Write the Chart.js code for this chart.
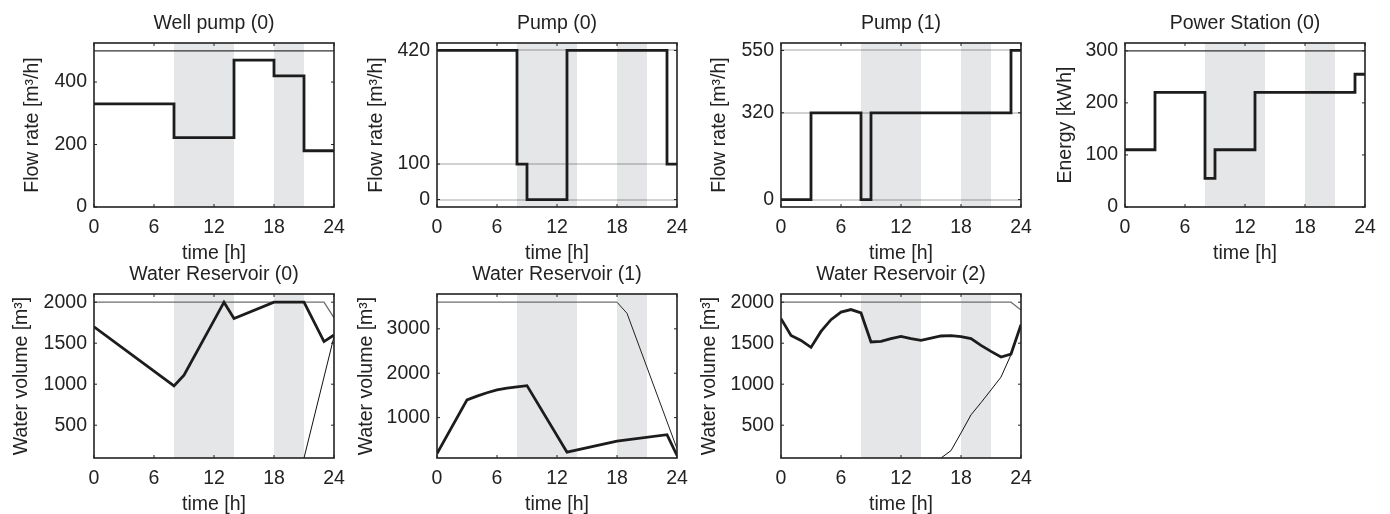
<!DOCTYPE html>
<html>
<head>
<meta charset="utf-8">
<title>Pump schedule</title>
<script src="https://cdn.jsdelivr.net/npm/chart.js"></script>
<style>
  body { margin: 0; background: #fff; }
  #page { position: relative; width: 1390px; height: 514px; overflow: hidden; }
  #page canvas { position: absolute; }
</style>
</head>
<body>
<div id="page">
  <canvas id="wellPump" width="356" height="265" style="left:0px;top:0px"></canvas>
  <canvas id="pump0" width="356" height="265" style="left:343px;top:0px"></canvas>
  <canvas id="pump1" width="356" height="265" style="left:687px;top:0px"></canvas>
  <canvas id="power" width="356" height="265" style="left:1031px;top:0px"></canvas>
  <canvas id="res0" width="356" height="265" style="left:0px;top:251px"></canvas>
  <canvas id="res1" width="356" height="265" style="left:343px;top:251px"></canvas>
  <canvas id="res2" width="356" height="265" style="left:687px;top:251px"></canvas>
</div>
<script>
// time axis and the expensive-tariff hours (shaded)
const hourTicks = [0, 6, 12, 18, 24];
const peakBands = [[8, 14], [18, 21]];

// Well pump (0)
const wellPumpTime = [0, 8, 14, 18, 21, 24];
const wellPumpFlow = [330, 222, 470, 420, 180, 180];
const wellPumpMax = 500;
const wellPumpTicks = [0, 200, 400];

// Pump (0)
const pump0Time = [0, 8, 9, 13, 23, 24];
const pump0Flow = [420, 100, 0, 420, 100, 100];
const pump0Ticks = [0, 100, 420];

// Pump (1)
const pump1Time = [0, 3, 8, 9, 23, 24];
const pump1Flow = [0, 320, 0, 320, 550, 550];
const pump1Ticks = [0, 320, 550];

// Power Station (0)
const powerTime = [0, 3, 8, 9, 13, 23, 24];
const powerEnergy = [110, 220, 55, 110, 220, 255, 255];
const powerMax = 300;
const powerTicks = [0, 100, 200, 300];

// Water Reservoir (0)
const res0Time = [0, 8, 9, 13, 14, 18, 21, 23, 24];
const res0Volume = [1700, 980, 1110, 2000, 1800, 2000, 2000, 1520, 1600];
const res0UpperTime = [0, 23, 24];
const res0Upper = [2000, 2000, 1810];
const res0LowerTime = [21, 24];
const res0Lower = [100, 1580];

// Water Reservoir (1)
const res1Time = [0, 3, 4, 5, 6, 7, 8, 9, 13, 18, 23, 24];
const res1Volume = [190, 1400, 1485, 1560, 1625, 1665, 1695, 1720, 220, 470, 615, 150];
const res1CapTime = [0, 18];
const res1Cap = [3600, 3600];
const res1UpperTime = [18, 19, 24];
const res1Upper = [3600, 3350, 300];
const res1Ticks = [1000, 2000, 3000];

// Water Reservoir (2)
const res2Time = [0, 1, 2, 3, 4, 5, 6, 7, 8, 9, 10, 11, 12, 13, 14, 15, 16, 17, 18, 19, 20, 21, 22, 23, 24];
const res2Volume = [1800, 1595, 1534, 1449, 1644, 1787, 1880, 1910, 1869, 1515, 1522, 1555, 1583,
                    1555, 1534, 1562, 1588, 1592, 1580, 1555, 1473, 1400, 1331, 1368, 1726];
const res2UpperTime = [0, 23, 24];
const res2Upper = [2000, 2000, 1905];
const res2LowerTime = [16, 17, 18, 19, 20, 21, 22, 23, 24];
const res2Lower = [100, 190, 405, 626, 775, 930, 1087, 1360, 1726];

const resTicks = [500, 1000, 1500, 2000];

const TEXT = "#222";
const BAND = "rgba(0, 10, 20, 0.1)";
const FONT_SIZE = 19.5;

Chart.defaults.font.family = "'Liberation Sans', Arial, sans-serif";
Chart.defaults.font.size = FONT_SIZE;
Chart.defaults.color = TEXT;

const toPoints = (times, values) => times.map((t, i) => ({ x: t, y: values[i] }));

// matlab-ish box with inward ticks
const axesBox = {
  id: "axesBox",
  afterDatasetsDraw(chart) {
    const { ctx, chartArea: a, scales } = chart;
    ctx.save();
    ctx.strokeStyle = TEXT;
    ctx.lineWidth = 1;
    ctx.beginPath();
    scales.x.ticks.forEach((t) => {
      const px = scales.x.getPixelForValue(t.value);
      ctx.moveTo(px, a.bottom);
      ctx.lineTo(px, a.bottom - 3);
      ctx.moveTo(px, a.top);
      ctx.lineTo(px, a.top + 3);
    });
    scales.y.ticks.forEach((t) => {
      const py = scales.y.getPixelForValue(t.value);
      ctx.moveTo(a.left, py);
      ctx.lineTo(a.left + 3, py);
      ctx.moveTo(a.right, py);
      ctx.lineTo(a.right - 3, py);
    });
    ctx.stroke();
    ctx.lineWidth = 1.6;
    ctx.strokeRect(a.left, a.top, a.right - a.left, a.bottom - a.top);
    ctx.restore();
  },
};

const makePlot = (id, cfg) => {
  const datasets = [];

  cfg.lines.forEach((line) => {
    datasets.push({
      data: toPoints(line.t, line.v),
      borderColor: line.color || "#1c1c1c",
      borderWidth: line.width || 2.8,
      stepped: cfg.stepped ? "before" : false,
      pointRadius: 0,
      fill: false,
      tension: 0,
    });
  });

  peakBands.forEach(([from, to]) => {
    datasets.push({
      data: [{ x: from, y: cfg.yMax }, { x: to, y: cfg.yMax }],
      borderWidth: 0,
      borderColor: "transparent",
      backgroundColor: BAND,
      pointRadius: 0,
      fill: "start",
    });
  });

  return new Chart(document.getElementById(id), {
    type: "line",
    data: { datasets },
    plugins: [axesBox],
    options: {
      responsive: false,
      animation: false,
      layout: { padding: { top: 0, left: 0, right: 22, bottom: 0 } },
      plugins: {
        legend: { display: false },
        tooltip: { enabled: false },
        title: {
          display: true,
          text: cfg.title,
          fullSize: false,
          color: TEXT,
          font: { size: FONT_SIZE, weight: "normal" },
          padding: { top: 11.8, bottom: 7.8 },
        },
      },
      scales: {
        x: {
          type: "linear",
          min: 0,
          max: 24,
          afterBuildTicks: (s) => {
            s.ticks = hourTicks.map((v) => ({ value: v }));
          },
          afterFit: (s) => {
            s.height = 58;
          },
          ticks: { padding: 9, callback: (v) => String(v), maxRotation: 0 },
          grid: { display: false, drawTicks: false },
          border: { display: false },
          title: { display: true, text: "time [h]", padding: { top: 0, bottom: 0 } },
        },
        y: {
          type: "linear",
          min: cfg.yMin,
          max: cfg.yMax,
          afterBuildTicks: (s) => {
            s.ticks = cfg.yTicks.map((v) => ({ value: v }));
          },
          afterFit: (s) => {
            s.width = 94;
          },
          ticks: { padding: 7, callback: (v) => String(v) },
          grid: {
            display: !!cfg.grid,
            drawTicks: false,
            color: "#d2d2d2",
            lineWidth: 2,
          },
          border: { display: false },
          title: {
            display: true,
            text: cfg.yLabel,
            padding: { top: cfg.yTitlePad, bottom: 0 },
          },
        },
      },
    },
  });
};

const capColor = "#333";
const upperColor = "#6e6e6e";

makePlot("wellPump", {
  title: "Well pump (0)",
  yLabel: "Flow rate [m³/h]",
  yMin: 0, yMax: 525, yTicks: wellPumpTicks, yTitlePad: 21.3,
  stepped: true,
  lines: [
    { t: wellPumpTime, v: wellPumpFlow },
    { t: [0, 24], v: [wellPumpMax, wellPumpMax], color: capColor, width: 1.2 },
  ],
});

makePlot("pump0", {
  title: "Pump (0)",
  yLabel: "Flow rate [m³/h]",
  yMin: -21, yMax: 441, yTicks: pump0Ticks, yTitlePad: 21.6, grid: true,
  stepped: true,
  lines: [{ t: pump0Time, v: pump0Flow }],
});

makePlot("pump1", {
  title: "Pump (1)",
  yLabel: "Flow rate [m³/h]",
  yMin: -27.5, yMax: 577.5, yTicks: pump1Ticks, yTitlePad: 21.3, grid: true,
  stepped: true,
  lines: [{ t: pump1Time, v: pump1Flow }],
});

makePlot("power", {
  title: "Power Station (0)",
  yLabel: "Energy [kWh]",
  yMin: 0, yMax: 315, yTicks: powerTicks, yTitlePad: 22.6,
  stepped: true,
  lines: [
    { t: powerTime, v: powerEnergy },
    { t: [0, 24], v: [powerMax, powerMax], color: capColor, width: 1.2 },
  ],
});

makePlot("res0", {
  title: "Water Reservoir (0)",
  yLabel: "Water volume [m³]",
  yMin: 100, yMax: 2100, yTicks: resTicks, yTitlePad: 10.3,
  lines: [
    { t: res0Time, v: res0Volume },
    { t: res0UpperTime, v: res0Upper, color: upperColor, width: 1.3 },
    { t: res0LowerTime, v: res0Lower, color: "#111", width: 1 },
  ],
});

makePlot("res1", {
  title: "Water Reservoir (1)",
  yLabel: "Water volume [m³]",
  yMin: 90, yMax: 3785, yTicks: res1Ticks, yTitlePad: 11.7,
  lines: [
    { t: res1Time, v: res1Volume },
    { t: res1CapTime, v: res1Cap, color: upperColor, width: 1.3 },
    { t: res1UpperTime, v: res1Upper, color: "#222", width: 1 },
  ],
});

makePlot("res2", {
  title: "Water Reservoir (2)",
  yLabel: "Water volume [m³]",
  yMin: 100, yMax: 2100, yTicks: resTicks, yTitlePad: 11.3,
  lines: [
    { t: res2Time, v: res2Volume },
    { t: res2UpperTime, v: res2Upper, color: upperColor, width: 1.3 },
    { t: res2LowerTime, v: res2Lower, color: "#111", width: 1 },
  ],
});
</script>
</body>
</html>
